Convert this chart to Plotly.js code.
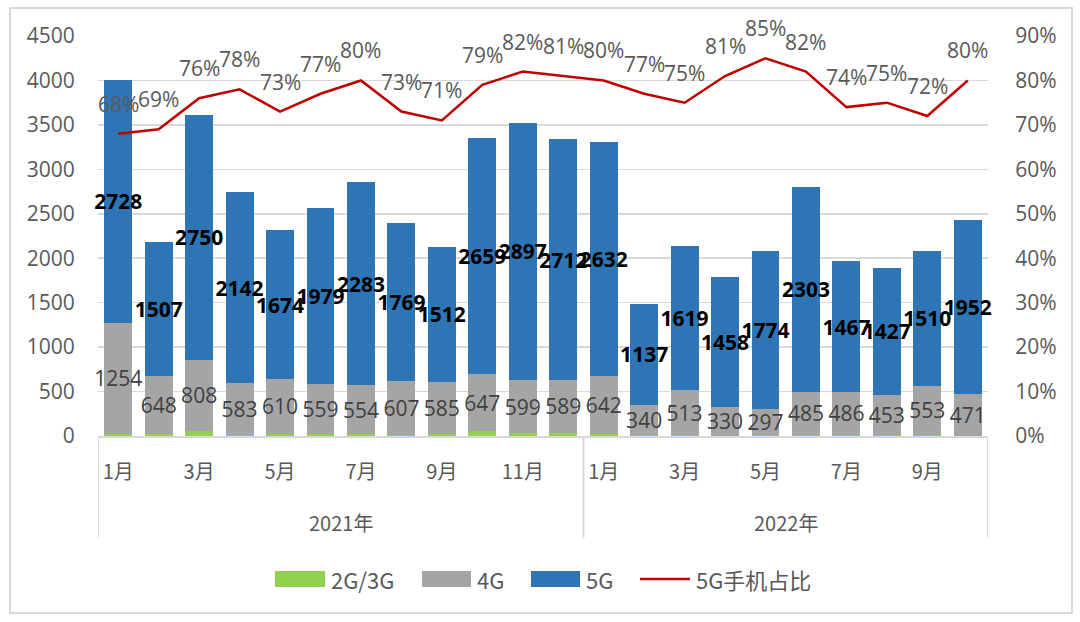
<!DOCTYPE html>
<html>
<head>
<meta charset="utf-8">
<script src="https://cdn.plot.ly/plotly-3.0.1.min.js"></script>
<style>
html,body{margin:0;padding:0;background:#fff;}
#chart{width:1080px;height:622px;}
</style>
</head>
<body>
<div id="chart"></div>
<script>
// ---- data ----
var months = ['1月','2月','3月','4月','5月','6月','7月','8月','9月','10月','11月','12月',
              '1月','2月','3月','4月','5月','6月','7月','8月','9月','10月'];
var years = ['2021年','2022年'];
var yearCounts = [12, 10];
var g23 = [22, 25, 52, 16, 28, 26, 20, 15, 28, 52, 30, 39,
           28, 9, 6, 1, 11, 13, 11, 13, 15, 4];
var g4  = [1254, 648, 808, 583, 610, 559, 554, 607, 585, 647, 599, 589,
           642, 340, 513, 330, 297, 485, 486, 453, 553, 471];
var g5  = [2728, 1507, 2750, 2142, 1674, 1979, 2283, 1769, 1512, 2659, 2897, 2712,
           2632, 1137, 1619, 1458, 1774, 2303, 1467, 1427, 1510, 1952];
var share = [0.68, 0.69, 0.76, 0.78, 0.73, 0.77, 0.80, 0.73, 0.71, 0.79, 0.82, 0.81,
             0.80, 0.77, 0.75, 0.81, 0.85, 0.82, 0.74, 0.75, 0.72, 0.80];
var legendNames = ['2G/3G','4G','5G','5G手机占比'];
var colors = {g23:'#92D050', g4:'#A5A5A5', g5:'#2E75B6', line:'#C00000'};

// ---- helpers ----
var W = 1080, H = 622, ML = 98, MR = 92, MT = 36, MB = 186;
var PW = W - ML - MR, PH = H - MT - MB;
function px(x){ return (x - ML) / PW; }
function py(y){ return (MT + PH - y) / PH; }

var idx = months.map(function(_, i){ return i; });
var FONT = 'Open Sans, Noto Sans CJK SC, sans-serif';
var CJK = 'Noto Sans CJK SC, Open Sans, sans-serif';

var traces = [
  {type:'bar', x:idx, y:g23, name:legendNames[0], marker:{color:colors.g23},
   hoverinfo:'skip', showlegend:false},
  {type:'bar', x:idx, y:g4, name:legendNames[1], marker:{color:colors.g4},
   text:g4.map(String), textposition:'inside', insidetextanchor:'middle', textangle:0,
   constraintext:'none', cliponaxis:false,
   insidetextfont:{family:FONT, size:21, color:'#404040'},
   hoverinfo:'skip', showlegend:false},
  {type:'bar', x:idx, y:g5, name:legendNames[2], marker:{color:colors.g5},
   text:g5.map(String), textposition:'inside', insidetextanchor:'middle', textangle:0,
   constraintext:'none', cliponaxis:false,
   insidetextfont:{family:FONT, size:21, color:'#000000', weight:'bold'},
   hoverinfo:'skip', showlegend:false},
  {type:'scatter', mode:'lines', x:idx, y:share, yaxis:'y2', name:legendNames[3],
   line:{color:colors.line, width:2.5}, hoverinfo:'skip', showlegend:false, cliponaxis:false}
];

var annotations = [];
share.forEach(function(v, i){
  annotations.push({x:i, y:v, xref:'x', yref:'y2', text:Math.round(v*100)+'%',
    showarrow:false, yshift:30, yanchor:'middle', font:{family:FONT, size:21, color:'#595959'}});
});
// year group labels
var start = 0;
years.forEach(function(yr, k){
  var c = start + (yearCounts[k]-1)/2;
  annotations.push({x:c, y:py(522), xref:'x', yref:'paper', xanchor:'center', yanchor:'middle',
    text:yr, showarrow:false, font:{family:CJK, size:20, color:'#595959'}});
  start += yearCounts[k];
});

var shapes = [];
// group dividers
var b = -0.5;
shapes.push({type:'line', xref:'x', yref:'paper', x0:b, x1:b, y0:0, y1:py(538),
  line:{color:'#D9D9D9', width:2}});
yearCounts.forEach(function(n){
  b += n;
  shapes.push({type:'line', xref:'x', yref:'paper', x0:b, x1:b, y0:0, y1:py(538),
    line:{color:'#D9D9D9', width:2}});
});
// outer border
shapes.push({type:'rect', xref:'paper', yref:'paper', x0:px(10), x1:px(1072), y0:py(613), y1:py(8),
  line:{color:'#D9D9D9', width:2}, fillcolor:'rgba(0,0,0,0)'});

// custom legend
var legItems = [
  {kind:'rect', color:colors.g23, x0:275, x1:325, tx:329, label:legendNames[0]},
  {kind:'rect', color:colors.g4,  x0:422, x1:471, tx:475, label:legendNames[1]},
  {kind:'rect', color:colors.g5,  x0:531, x1:580, tx:584, label:legendNames[2]},
  {kind:'line', color:colors.line, x0:640, x1:690, tx:694, label:legendNames[3]}
];
var LY = 579;
legItems.forEach(function(it){
  if (it.kind === 'rect') {
    shapes.push({type:'rect', xref:'paper', yref:'paper', x0:px(it.x0), x1:px(it.x1),
      y0:py(LY+8), y1:py(LY-8), line:{width:0}, fillcolor:it.color});
  } else {
    shapes.push({type:'line', xref:'paper', yref:'paper', x0:px(it.x0), x1:px(it.x1),
      y0:py(LY), y1:py(LY), line:{color:it.color, width:2.5}});
  }
  annotations.push({x:px(it.tx), y:py(LY), xref:'paper', yref:'paper', xanchor:'left',
    yanchor:'middle', text:it.label, showarrow:false,
    font:{family:CJK, size:22, color:'#595959'}});
});

var tickvals = idx.filter(function(i){ return i % 2 === 0; });
var ticktext = tickvals.map(function(i){ return months[i]; });

var layout = {
  width:W, height:H,
  margin:{l:ML, r:MR, t:MT, b:MB, pad:0},
  paper_bgcolor:'#FFFFFF', plot_bgcolor:'#FFFFFF',
  barmode:'stack', bargap:0.31,
  showlegend:false,
  font:{family:FONT, color:'#595959'},
  xaxis:{range:[-0.5, 21.5], tickvals:tickvals, ticktext:ticktext,
    ticks:'outside', ticklen:17, tickcolor:'rgba(0,0,0,0)',
    tickfont:{family:CJK, size:20, color:'#595959'},
    showline:true, linecolor:'#D9D9D9', linewidth:2, showgrid:false, zeroline:false,
    fixedrange:true},
  yaxis:{range:[0, 4500], dtick:500, ticks:'outside', ticklen:18, tickcolor:'rgba(0,0,0,0)',
    tickfont:{family:FONT, size:21, color:'#595959'},
    showgrid:true, gridcolor:'#D9D9D9', gridwidth:1.5, zeroline:false, showline:false},
  yaxis2:{range:[0, 0.9], dtick:0.1, tickformat:'.0%', overlaying:'y', side:'right',
    ticks:'outside', ticklen:22, tickcolor:'rgba(0,0,0,0)',
    tickfont:{family:FONT, size:21, color:'#595959'},
    showgrid:false, zeroline:false, showline:false},
  annotations:annotations,
  shapes:shapes
};

Plotly.newPlot('chart', traces, layout, {displayModeBar:false, staticPlot:true});
</script>
</body>
</html>
